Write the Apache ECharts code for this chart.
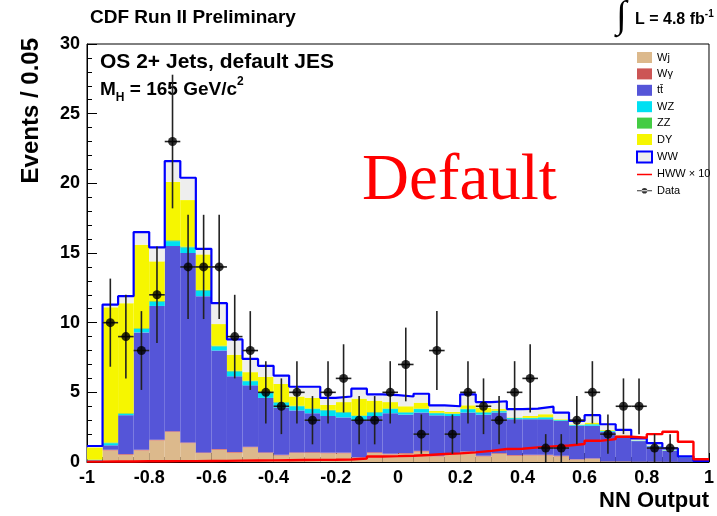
<!DOCTYPE html>
<html><head><meta charset="utf-8">
<script src="https://cdn.jsdelivr.net/npm/echarts@6/dist/echarts.min.js"></script>
<style>html,body{margin:0;padding:0;background:#fff}#c{width:717px;height:516px}</style>
</head><body><div id="c"></div>
<script>
// ---- binning ----
const xMin = -1, xMax = 1, binWidth = 0.05, nBins = 40;
const binIndex = Array.from({length: nBins}, (_, i) => i);

// ---- stacked backgrounds (events per bin) ----
const Wj = [0.04,0.83,0.52,0.83,1.55,2.15,1.35,0.64,0.88,0.67,1.05,0.64,0.47,0.64,0.65,0.62,0.62,0.30,0.65,0.55,0.59,0.75,0.40,0.57,0.71,0.40,0.59,0.45,0.47,0.47,0.40,0.17,0.23,0.04,0.04,0.02,0.02,0.01,0,0];
const Wgamma = [0.01,0.05,0.05,0.05,0.05,0.05,0.05,0.05,0.05,0.05,0.05,0.05,0.05,0.05,0.05,0.05,0.05,0.04,0.05,0.05,0.05,0.05,0.05,0.05,0.05,0.05,0.05,0.05,0.05,0.05,0.05,0.03,0.03,0.01,0.01,0.01,0.01,0.01,0,0];
const ttbar = [0.05,0.32,2.79,8.42,9.60,13.30,13.60,11.21,7.07,5.43,4.40,3.91,3.38,3.01,2.80,2.63,2.53,2.66,2.60,2.90,2.76,2.75,2.90,2.68,2.79,2.95,2.91,2.57,2.55,2.55,2.50,2.40,2.34,2.12,1.78,1.47,1.10,0.78,0.33,0.03];
const WZ = [0.05,0.15,0.09,0.25,0.30,0.35,0.40,0.40,0.30,0.35,0.30,0.40,0.36,0.30,0.30,0.40,0.35,0.30,0.25,0.30,0.15,0.25,0.15,0.15,0.24,0.15,0.10,0.08,0.08,0.13,0.05,0.05,0.10,0.06,0.05,0.03,0.03,0.03,0.02,0.01];
const ZZ = [0.02,0.05,0.05,0.05,0.05,0.06,0.06,0.05,0.05,0.05,0.04,0.04,0.04,0.04,0.04,0.04,0.04,0.04,0.04,0.04,0.03,0.03,0.03,0.03,0.03,0.03,0.03,0.02,0.02,0.02,0.02,0.02,0.02,0.02,0.02,0.01,0.01,0.01,0.01,0];
const DY = [0.88,9.70,7.90,6.00,2.85,4.19,3.34,2.55,1.55,1.15,0.61,1.06,1.30,0.66,0.76,0.36,0.71,1.21,0.81,0.46,0.42,0.43,0.14,0.12,0.25,0.32,0.12,0.03,0.13,0.21,0.05,0.03,0.11,0.05,0.03,0.01,0.01,0.01,0,0.01];
const WW = [0.10,0.20,0.50,0.90,1.00,1.50,1.60,0.40,1.50,1.10,0.95,0.80,0.60,0.70,0.80,0.50,0.40,0.71,0.46,0.50,0.70,0.64,0.40,0.40,0.79,0.40,0.56,0.60,0.53,0.54,0.48,0.25,0.53,0.41,0.38,0.14,0.18,0.13,0.04,0.03];
// ---- signal (HWW x 10) ----
const HWWx10 = [0.03,0.04,0.04,0.05,0.05,0.06,0.06,0.07,0.08,0.10,0.11,0.12,0.13,0.14,0.15,0.16,0.18,0.25,0.40,0.42,0.45,0.50,0.57,0.62,0.69,0.80,0.93,0.95,1.05,1.12,1.18,1.29,1.52,1.64,1.81,1.74,2.00,2.17,1.45,0.20];
// ---- data counts ----
const dataCounts = [0,10,9,8,12,23,14,14,14,9,8,5,4,5,3,5,6,3,3,5,7,2,8,2,5,4,3,5,6,1,1,3,5,2,4,4,1,1,0,0];

// ---- axis tick labels ----
const yTicks = [0, 5, 10, 15, 20, 25, 30];
const xTickStep = 0.2;

const FONT = 'Liberation Sans';
const layers = [
  {name: 'Wj', data: Wj, color: '#dcb98c'},
  {name: 'W\u03b3', data: Wgamma, color: '#cc5555'},
  {name: 'tt\u0304', data: ttbar, color: '#5555d8'},
  {name: 'WZ', data: WZ, color: '#00e0f2'},
  {name: 'ZZ', data: ZZ, color: '#44cc44'},
  {name: 'DY', data: DY, color: '#f6f600'},
  {name: 'WW', data: WW, color: '#eeeeee'}
];
const totals = binIndex.map(i => layers.reduce((s, l) => s + l.data[i], 0));
const lowEdge = binIndex.map(i => xMin + i * binWidth);
const stepData = arr => binIndex.map(i => [lowEdge[i], arr[i]]).concat([[xMax, arr[nBins - 1]]]);
const centers = binIndex.map(i => lowEdge[i] + binWidth / 2);
const dataPts = binIndex.filter(i => dataCounts[i] > 0).map(i => [centers[i], dataCounts[i]]);

const chart = echarts.init(document.getElementById('c'), null, {renderer: 'canvas'});

const series = layers.map(l => ({
  name: l.name, type: 'bar', stack: 'bkg', xAxisIndex: 0, yAxisIndex: 0,
  data: l.data, barCategoryGap: '0%', barWidth: '100%',
  itemStyle: {color: l.color}, silent: true, animation: false
}));
series.push({
  name: 'WWline', type: 'line', xAxisIndex: 1, data: stepData(totals), step: 'end',
  symbol: 'none', lineStyle: {color: '#0000ff', width: 2.2}, z: 5, animation: false, silent: true
});
series.push({
  name: 'HWW \u00d7 10', type: 'line', xAxisIndex: 1, data: stepData(HWWx10), step: 'end',
  symbol: 'none', lineStyle: {color: '#ff0000', width: 2.4}, itemStyle: {color: '#ff0000'}, z: 6, animation: false
});
series.push({
  type: 'custom', xAxisIndex: 1, data: dataPts, z: 7, animation: false, silent: true,
  renderItem: function (params, api) {
    const x = api.value(0), n = api.value(1);
    const e = Math.sqrt(n);
    const t = api.coord([x, n + e]);
    const b = api.coord([x, Math.max(n - e, 0)]);
    const l = api.coord([x - binWidth / 2, n]);
    const r = api.coord([x + binWidth / 2, n]);
    return {type: 'group', children: [
      {type: 'line', shape: {x1: t[0], y1: t[1], x2: b[0], y2: b[1]}, style: {stroke: '#222', lineWidth: 1.6}},
      {type: 'line', shape: {x1: l[0], y1: l[1], x2: r[0], y2: r[1]}, style: {stroke: '#222', lineWidth: 1.6}}
    ]};
  }
});
series.push({
  name: 'Data', type: 'scatter', xAxisIndex: 1, data: dataPts, symbol: 'circle', symbolSize: 9,
  itemStyle: {color: '#000'}, z: 8, animation: false
});

const legendIcon = 'rect';
chart.setOption({
  animation: false,
  grid: {left: 87, right: 4, top: 44, bottom: 54, show: true, borderColor: '#000', borderWidth: 1, backgroundColor: 'transparent'},
  legend: {
    orient: 'vertical', left: 636, top: 52, itemWidth: 15, itemHeight: 11, itemGap: 5.4, padding: 0,
    textStyle: {fontFamily: FONT, fontSize: 11, color: '#000'},
    selectedMode: false,
    data: [
      {name: 'Wj', icon: legendIcon},
      {name: 'W\u03b3', icon: legendIcon},
      {name: 'tt\u0304', icon: legendIcon},
      {name: 'WZ', icon: legendIcon},
      {name: 'ZZ', icon: legendIcon},
      {name: 'DY', icon: legendIcon},
      {name: 'WW', icon: legendIcon, itemStyle: {color: '#eeeeee', borderColor: '#0000ff', borderWidth: 2}},
      {name: 'HWW \u00d7 10', icon: 'path://M0,0h1v0.01h-1z M0,5h16v1.6H0z M0,11h1v0.01h-1z', itemStyle: {color: '#ff0000'}},
      {name: 'Data', icon: 'path://M0,0h1v0.01h-1z M0,5h16v1.2H0z M8,2.5a3,3 0 1,0 0.01,0z M0,11h1v0.01h-1z', itemStyle: {color: '#000'}}
    ]
  },
  xAxis: [
    {type: 'category', data: centers.map(c => c.toFixed(3)), show: false, boundaryGap: true, gridIndex: 0},
    {type: 'value', min: xMin, max: xMax, interval: xTickStep, gridIndex: 0, position: 'bottom',
      axisLine: {show: true, onZero: false, lineStyle: {color: '#000', width: 1}},
      axisTick: {show: true, inside: true, length: 9, lineStyle: {color: '#000'}},
      minorTick: {show: true, splitNumber: 4, length: 5, lineStyle: {color: '#000'}},
      splitLine: {show: false},
      axisLabel: {fontFamily: FONT, fontWeight: 'bold', fontSize: 18, color: '#000', margin: 7,
        formatter: v => { const r = Math.round(v * 10) / 10; return String(r); }},
      name: 'NN Output', nameLocation: 'end', nameGap: 0,
      nameTextStyle: {fontFamily: FONT, fontWeight: 'bold', fontSize: 22, color: '#000', align: 'right', verticalAlign: 'top', padding: [28, 0, 0, 0]}
    }
  ],
  yAxis: [{
    type: 'value', min: 0, max: 30, interval: 5,
    axisLine: {show: true, onZero: false, lineStyle: {color: '#000', width: 1}},
    axisTick: {show: true, inside: true, length: 10, lineStyle: {color: '#000'}},
    minorTick: {show: true, splitNumber: 5, length: 5, lineStyle: {color: '#000'}},
    splitLine: {show: false},
    axisLabel: {fontFamily: FONT, fontWeight: 'bold', fontSize: 18, color: '#000', margin: 7,
      formatter: v => yTicks.includes(v) ? String(v) : ''}
  }],
  graphic: [
    {type: 'text', left: 90, top: 8, style: {text: 'CDF Run II Preliminary', font: 'bold 19px "Liberation Sans"', fill: '#000'}},
    {type: 'text', x: 616, y: 17, style: {text: '\u222b', font: '38px "Liberation Serif"', fill: '#000', verticalAlign: 'middle'}},
    {type: 'text', x: 635, y: 20, style: {
      text: '{a|L = 4.8 fb}{p|-1}', verticalAlign: 'middle',
      rich: {a: {font: 'bold 16px "Liberation Sans"', fill: '#000', lineHeight: 22},
             p: {font: 'bold 10px "Liberation Sans"', fill: '#000', verticalAlign: 'top', lineHeight: 12}}
    }},
    {type: 'text', x: 100, y: 62, style: {text: 'OS 2+ Jets, default JES', font: 'bold 21px "Liberation Sans"', fill: '#000', verticalAlign: 'middle'}},
    {type: 'text', x: 100, y: 90, style: {
      text: '{m|M}{s|H}{m| = 165 GeV/c}{p|2}', verticalAlign: 'middle',
      rich: {m: {font: 'bold 19px "Liberation Sans"', fill: '#000', lineHeight: 28},
             s: {font: 'bold 12px "Liberation Sans"', fill: '#000', verticalAlign: 'bottom', lineHeight: 14},
             p: {font: 'bold 12px "Liberation Sans"', fill: '#000', verticalAlign: 'top', lineHeight: 14}}
    }},
    {type: 'text', x: 362, y: 182, style: {text: 'Default', font: '65px "Liberation Serif"', fill: '#ff0000', verticalAlign: 'middle'}},
    {type: 'text', x: 31, y: 38, rotation: Math.PI / 2, style: {text: 'Events / 0.05', font: 'bold 24px "Liberation Sans"', fill: '#000', align: 'right', verticalAlign: 'middle'}}
  ],
  series: series
});
</script></body></html>
